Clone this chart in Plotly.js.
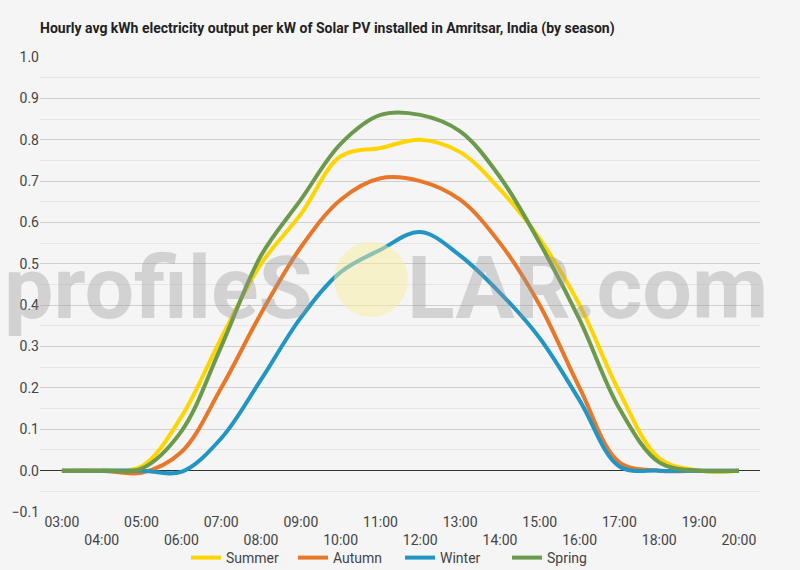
<!DOCTYPE html>
<html>
<head>
<meta charset="utf-8">
<script src="https://cdn.plot.ly/plotly-3.0.1.min.js"></script>
<style>
  html, body { margin: 0; padding: 0; background: #f5f5f5; }
  #chart { width: 800px; height: 570px; }
</style>
</head>
<body>
<div id="chart"></div>
<script>
// hourly averages, kWh per kW installed
const hours = ['03:00', '04:00', '05:00', '06:00', '07:00', '08:00', '09:00', '10:00', '11:00',
               '12:00', '13:00', '14:00', '15:00', '16:00', '17:00', '18:00', '19:00', '20:00'];

const summer = [0, 0, 0.01, 0.13, 0.32, 0.50, 0.62, 0.76, 0.78, 0.80, 0.77, 0.68, 0.56, 0.40, 0.19, 0.03, 0, 0];
const autumn = [0, 0, -0.005, 0.045, 0.20, 0.38, 0.54, 0.655, 0.707, 0.70, 0.655, 0.55, 0.40, 0.20, 0.02, 0, 0, 0];
const winter = [0, 0, 0, -0.003, 0.078, 0.22, 0.37, 0.48, 0.534, 0.577, 0.52, 0.43, 0.32, 0.17, 0.01, 0, 0, 0];
const spring = [0, 0, 0.005, 0.095, 0.30, 0.52, 0.655, 0.79, 0.86, 0.86, 0.82, 0.71, 0.55, 0.365, 0.15, 0.02, 0, 0];

const seriesNames = ['Summer', 'Autumn', 'Winter', 'Spring'];
const seriesColors = ['#ffd400', '#e8772a', '#2196c4', '#6b9a4c'];

// every other label drops to a second row
const tickLabels = hours.map((h, i) => i % 2 ? '\u00a0<br>' + h : h);

const FONT = 'Roboto, "Liberation Sans", sans-serif';

function px2x(px) { return (px - 40) / 720; }
function px2y(py) { return (512 - py) / 455; }

const traces = [summer, autumn, winter, spring].map((vals, i) => ({
    x: hours,
    y: vals,
    type: 'scatter',
    mode: 'lines',
    name: seriesNames[i],
    line: { color: seriesColors[i], width: 4, shape: 'spline', smoothing: 1 },
    hoverinfo: 'skip'
}));

const layout = {
    width: 800,
    height: 570,
    paper_bgcolor: '#f5f5f5',
    plot_bgcolor: '#f5f5f5',
    margin: { l: 40, r: 40, t: 57, b: 58, autoexpand: false },
    font: { family: FONT, size: 14, color: '#444' },
    title: {
        text: 'Hourly avg kWh electricity output per kW of Solar PV installed in Amritsar, India (by season)',
        x: 40 / 800, xanchor: 'left', xref: 'container',
        y: 1 - 28 / 570, yanchor: 'middle', yref: 'container',
        font: { family: FONT, size: 14, color: '#222', weight: 'bold' }
    },
    xaxis: {
        type: 'category',
        range: [-0.55, 17.53],
        automargin: false,
        showgrid: false,
        zeroline: false,
        showline: false,
        ticks: '',
        tickmode: 'array',
        tickvals: hours,
        ticktext: tickLabels,
        tickfont: { family: FONT, size: 14, color: '#444' },
        fixedrange: true
    },
    yaxis: {
        range: [-0.1, 1.0],
        automargin: false,
        dtick: 0.1,
        tick0: 0,
        tickformat: '.1f',
        gridcolor: '#cfcfcf',
        gridwidth: 1,
        minor: { dtick: 0.05, tick0: 0, showgrid: true, gridcolor: '#e6e6e6', gridwidth: 1 },
        zeroline: true,
        zerolinecolor: '#333',
        zerolinewidth: 1,
        ticks: '',
        tickfont: { family: FONT, size: 14, color: '#444' },
        fixedrange: true
    },
    showlegend: true,
    legend: {
        orientation: 'h',
        x: 0.5, xanchor: 'center',
        y: px2y(558), yanchor: 'middle',
        entrywidth: 62,
        entrywidthmode: 'pixels',
        font: { family: FONT, size: 14, color: '#444' },
        bgcolor: 'rgba(0,0,0,0)'
    },
    shapes: [{
        type: 'circle',
        xref: 'paper', yref: 'paper',
        x0: px2x(334), x1: px2x(408),
        y0: px2y(317), y1: px2y(242),
        fillcolor: 'rgba(250,238,160,0.5)',
        line: { width: 0 },
        layer: 'above'
    }],
    annotations: [{
        text: 'profileS',
        xref: 'paper', yref: 'paper',
        x: px2x(2), xanchor: 'left',
        y: px2y(287), yanchor: 'middle',
        showarrow: false,
        font: { family: FONT, size: 88, weight: 'bold', color: 'rgba(150,150,150,0.36)' }
    }, {
        text: 'LAR.com',
        xref: 'paper', yref: 'paper',
        x: px2x(405), xanchor: 'left',
        y: px2y(287), yanchor: 'middle',
        showarrow: false,
        font: { family: FONT, size: 88, weight: 'bold', color: 'rgba(150,150,150,0.36)' }
    }]
};

Plotly.newPlot('chart', traces, layout, { displayModeBar: false, staticPlot: true });
</script>
</body>
</html>
